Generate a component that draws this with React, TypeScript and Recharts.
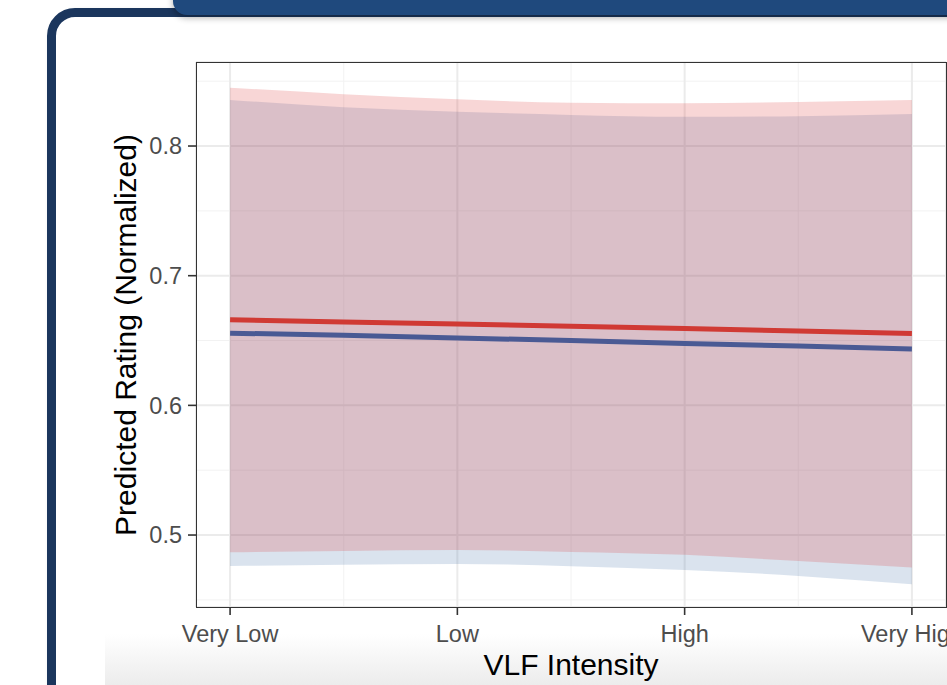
import {
  ComposedChart,
  Area,
  Line,
  XAxis,
  YAxis,
  CartesianGrid,
} from 'recharts';

const FONT = '"Liberation Sans", Arial, Helvetica, sans-serif';

// x positions of the fitted curves (1 = Very Low ... 4 = Very High)
const xs = [1, 1.5, 2, 2.5, 3, 3.5, 4];
const intensityLabels = ['Very Low', 'Low', 'High', 'Very High'];

const redFit = [0.666, 0.6643, 0.6627, 0.661, 0.6593, 0.6573, 0.6555];
const redLo = [0.4867, 0.4877, 0.4885, 0.487, 0.4847, 0.48, 0.4749];
const redHi = [0.845, 0.84, 0.836, 0.8334, 0.833, 0.834, 0.8355];

const blueFit = [0.6557, 0.654, 0.652, 0.65, 0.6478, 0.6457, 0.6435];
const blueLo = [0.4762, 0.477, 0.4777, 0.476, 0.4731, 0.4685, 0.462];
const blueHi = [0.8355, 0.83, 0.8265, 0.824, 0.8226, 0.823, 0.8247];

const xDomain: [number, number] = [0.85, 4.15];
const yDomain: [number, number] = [0.4445, 0.8648];
const yTicks = [0.5, 0.6, 0.7, 0.8];
const yMinor = [0.45, 0.55, 0.65, 0.75, 0.85];
const xTicks = [1, 2, 3, 4];
const xMinor = [1.5, 2.5, 3.5];

const data = xs.map((x, i) => ({
  x,
  red: redFit[i],
  blue: blueFit[i],
  redBand: [redLo[i], redHi[i]],
  blueBand: [blueLo[i], blueHi[i]],
}));

// minor grid positions, mapped through the same linear domains as the axes
const minorY = ({ offset }: any) =>
  yMinor.map(
    (v) => offset.top + ((yDomain[1] - v) / (yDomain[1] - yDomain[0])) * offset.height
  );
const minorX = ({ offset }: any) =>
  xMinor.map(
    (v) => offset.left + ((v - xDomain[0]) / (xDomain[1] - xDomain[0])) * offset.width
  );

export default function App() {
  return (
    <div
      style={{
        position: 'fixed',
        left: 0,
        top: 0,
        width: 947,
        height: 685,
        overflow: 'hidden',
        background: '#fff',
      }}
    >
      {/* slide card frame */}
      <div
        style={{
          position: 'absolute',
          left: 47,
          top: 8,
          width: 1000,
          height: 800,
          border: '9px solid #1b365d',
          borderRadius: 28,
          boxSizing: 'border-box',
          background: '#fff',
          boxShadow: '2px 2px 4px rgba(0,0,0,0.15)',
        }}
      />
      {/* bottom fade */}
      <div
        style={{
          position: 'absolute',
          left: 105,
          top: 634,
          width: 900,
          height: 51,
          background: 'linear-gradient(to bottom, rgba(236,236,236,0), #ececec)',
        }}
      />
      <div style={{ position: 'absolute', left: 0, top: 0 }}>
        <ComposedChart
          width={947}
          height={685}
          data={data}
          margin={{ top: 62, right: 1, bottom: 0, left: 0 }}
        >
          <CartesianGrid
            stroke="#f2f2f2"
            strokeWidth={1}
            horizontalCoordinatesGenerator={minorY}
            verticalCoordinatesGenerator={minorX}
          />
          <CartesianGrid stroke="#ebebeb" strokeWidth={2} />
          <XAxis
            dataKey="x"
            type="number"
            domain={xDomain}
            ticks={xTicks}
            allowDataOverflow
            height={78}
            tickFormatter={(v: number) => intensityLabels[v - 1]}
            tick={{ fontSize: 23.5, fill: '#4d4d4d', fontFamily: FONT }}
            tickLine={{ stroke: '#333', strokeWidth: 1.6 }}
            tickSize={8}
            tickMargin={10}
            axisLine={false}
            interval={0}
          />
          <YAxis
            type="number"
            domain={yDomain}
            ticks={yTicks}
            allowDataOverflow
            width={196}
            tickFormatter={(v: number) => v.toFixed(1)}
            tick={{ fontSize: 23.5, fill: '#4d4d4d', fontFamily: FONT }}
            tickLine={{ stroke: '#333', strokeWidth: 1.6 }}
            tickSize={8}
            tickMargin={6}
            axisLine={false}
          />
          <Area
            type="monotone"
            dataKey="blueBand"
            fill="#4673aa"
            fillOpacity={0.2}
            stroke="none"
            isAnimationActive={false}
          />
          <Area
            type="monotone"
            dataKey="redBand"
            fill="#dc3232"
            fillOpacity={0.2}
            stroke="none"
            isAnimationActive={false}
          />
          <Line
            type="linear"
            dataKey="blue"
            stroke="#4a5a94"
            strokeWidth={5}
            dot={false}
            isAnimationActive={false}
          />
          <Line
            type="linear"
            dataKey="red"
            stroke="#d03a34"
            strokeWidth={5}
            dot={false}
            isAnimationActive={false}
          />
        </ComposedChart>
      </div>
      {/* panel border */}
      <div
        style={{
          position: 'absolute',
          left: 195.5,
          top: 61.5,
          width: 751,
          height: 546,
          border: '1.3px solid #333',
          boxSizing: 'border-box',
          pointerEvents: 'none',
        }}
      />
      <svg
        width={947}
        height={685}
        style={{ position: 'absolute', left: 0, top: 0, pointerEvents: 'none' }}
      >
        <text
          x={571}
          y={675}
          textAnchor="middle"
          fontSize={30}
          fontFamily={FONT}
          fill="#000"
        >
          VLF Intensity
        </text>
        <text
          transform="translate(136 335) rotate(-90)"
          textAnchor="middle"
          fontSize={30}
          fontFamily={FONT}
          fill="#000"
        >
          Predicted Rating (Normalized)
        </text>
      </svg>
      {/* header bar */}
      <div
        style={{
          position: 'absolute',
          left: 173,
          top: -40,
          width: 900,
          height: 55,
          background: '#1f497d',
          borderRadius: 14,
          boxShadow: '0 3px 6px rgba(0,0,0,0.3)',
        }}
      />
    </div>
  );
}
